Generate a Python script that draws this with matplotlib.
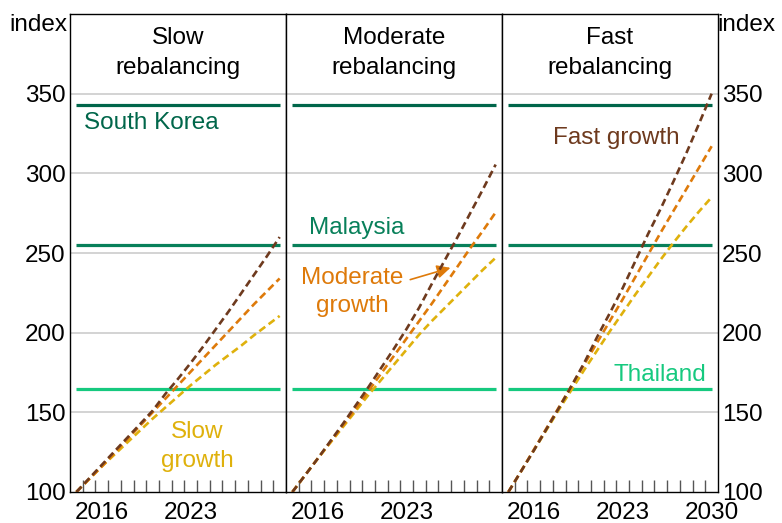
import matplotlib
matplotlib.use('Agg')
import matplotlib.pyplot as plt

plt.rcParams['font.family'] = ['Liberation Sans', 'DejaVu Sans']

# years shown on each panel
years = list(range(2014, 2031))

# benchmark income levels (index)
south_korea = 343
malaysia = 255
thailand = 164.5

panel_titles = ['Slow\nrebalancing', 'Moderate\nrebalancing', 'Fast\nrebalancing']

# slow rebalancing panel
slow_reb_fast = [100, 108.5, 117, 125.5, 134, 142.5, 151, 161.5, 171, 181, 191.5, 202.5, 213.5, 225, 236.5, 248, 260]
slow_reb_mod = [100, 108, 116, 124.5, 133, 141.5, 150, 158.5, 167, 175.5, 184, 192.5, 201, 209.5, 218, 226, 234]
slow_reb_slow = [100, 108, 116, 123.5, 131, 138.5, 146, 153, 160, 167, 173.5, 180, 186, 192, 198.5, 204.5, 210.5]

# moderate rebalancing panel
mod_reb_fast = [100, 110.5, 121, 132, 143, 154.5, 166, 178, 190, 202.5, 216, 231, 245.5, 260, 275, 290, 305.5]
mod_reb_mod = [100, 110.5, 121, 131.5, 142, 152.5, 163.5, 174.5, 185.5, 196.5, 207.5, 218.5, 230, 241.5, 253, 264, 275.5]
mod_reb_slow = [100, 110.5, 121, 131, 141, 151, 161, 170.5, 180, 189.5, 199, 207.5, 215.5, 223.5, 231.5, 239.5, 247]

# fast rebalancing panel
fast_reb_fast = [100, 113, 126, 139.5, 153, 167, 181.5, 197.5, 212.5, 228, 245, 262, 278, 295, 312.5, 331, 350]
fast_reb_mod = [100, 113, 126.5, 140, 153.5, 167, 180.5, 194, 207.5, 221, 235, 249, 263, 276.5, 290, 303.5, 317]
fast_reb_slow = [100, 113, 126, 139, 152, 164.5, 177, 189, 201, 212.5, 224, 235, 246, 256.5, 266.5, 276, 285]

panels = [
    (slow_reb_fast, slow_reb_mod, slow_reb_slow),
    (mod_reb_fast, mod_reb_mod, mod_reb_slow),
    (fast_reb_fast, fast_reb_mod, fast_reb_slow),
]

c_korea = '#00664a'
c_malaysia = '#08805a'
c_thai = '#16c97f'
c_fast = '#6e3a1e'
c_mod = '#de7a0a'
c_slow = '#dfb10c'

fs = 17.5

fig = plt.figure(figsize=(7.82, 5.23), dpi=100)
left, right = 70 / 782, 718 / 782
bottom, top = 31 / 523, 509 / 523
w = (right - left) / 3

axes = []
for i in range(3):
    ax = fig.add_axes([left + i * w, bottom, w, top - bottom])
    axes.append(ax)
    fast, mod, slow = panels[i]

    ax.set_xlim(2013.5, 2030.5)
    ax.set_ylim(100, 400)
    for g in [150, 200, 250, 300, 350]:
        ax.axhline(g, color='#c8c8c8', lw=1.1, zorder=0)

    ax.hlines([south_korea], 2014, 2030, color=c_korea, lw=2.3, zorder=2)
    ax.hlines([malaysia], 2014, 2030, color=c_malaysia, lw=2.3, zorder=2)
    ax.hlines([thailand], 2014, 2030, color=c_thai, lw=2.3, zorder=2)

    ax.plot(years, slow, color=c_slow, lw=1.9, dashes=(2.8, 1.6), zorder=3)
    ax.plot(years, mod, color=c_mod, lw=1.9, dashes=(2.8, 1.6), zorder=4)
    ax.plot(years, fast, color=c_fast, lw=1.9, dashes=(2.8, 1.6), zorder=5)

    ax.text(0.5, 0.972, panel_titles[i], transform=ax.transAxes, ha='center', va='top',
            fontsize=fs, linespacing=1.45)

    # x ticks: year boundaries as tick marks, labels at year centres
    ax.set_xticks([y + 0.5 for y in years[:-1]], minor=True)
    if i == 2:
        ax.set_xticks([2016, 2023, 2030])
    else:
        ax.set_xticks([2016, 2023])
    ax.tick_params(axis='x', which='major', length=0, labelsize=fs, pad=7)
    ax.tick_params(axis='x', which='minor', direction='in', length=9, width=1, color='#555555')

    ax.set_yticks([100, 150, 200, 250, 300, 350])
    ax.tick_params(axis='y', length=0, labelsize=fs, pad=3)
    if i == 0:
        ax.yaxis.tick_left()
    elif i == 2:
        ax.yaxis.tick_right()
        ax.tick_params(axis='y', labelleft=False, labelright=True)
    else:
        ax.tick_params(axis='y', labelleft=False)

    for s in ax.spines.values():
        s.set_linewidth(1)

fig.text(38 / 782, 1 - 25 / 523, 'index', ha='center', va='center', fontsize=fs)
fig.text(746 / 782, 1 - 25 / 523, 'index', ha='center', va='center', fontsize=fs)

a0, a1, a2 = axes
a0.text(2019.9, 331.8, 'South Korea', color=c_korea, fontsize=fs, ha='center', va='center')
a0.text(2023.5, 128.5, 'Slow\ngrowth', color=c_slow, fontsize=fs, ha='center', va='center', linespacing=1.38)
a1.text(2019.1, 266, 'Malaysia', color=c_malaysia, fontsize=fs, ha='center', va='center')
a1.text(2018.7, 225.5, 'Moderate\ngrowth', color=c_mod, fontsize=fs, ha='center', va='center', linespacing=1.38)
a1.annotate('', xy=(2026.65, 241.2), xytext=(2023.07, 232.8),
            arrowprops=dict(arrowstyle='-|>', color=c_mod, lw=1.2, mutation_scale=20))
a2.text(2022.5, 322.4, 'Fast growth', color=c_fast, fontsize=fs, ha='center', va='center')
a2.text(2025.9, 173.3, 'Thailand', color=c_thai, fontsize=fs, ha='center', va='center')

fig.savefig('out.png', dpi=100)
